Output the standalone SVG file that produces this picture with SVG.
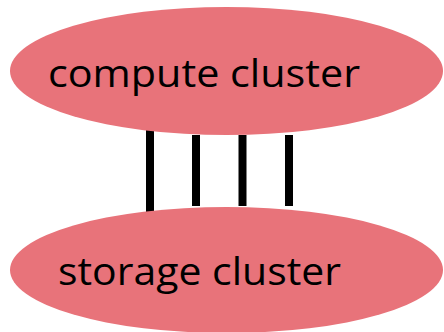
<svg xmlns="http://www.w3.org/2000/svg" width="444" height="332" viewBox="0 0 444 332">
<style>
.node{fill:#E8737A;stroke:none}
.lbl{font-family:"Open Sans","Liberation Sans",sans-serif;font-size:38px;fill:#000}
.link{stroke:#000;stroke-width:8;fill:none}
</style>
<rect width="444" height="332" fill="#fff"/>
<g id="connectors">
<line class="link" x1="150" y1="125" x2="150" y2="215"/>
<line class="link" x1="196" y1="135" x2="196" y2="206"/>
<line class="link" x1="242.5" y1="135" x2="242.5" y2="206"/>
<line class="link" x1="289" y1="135" x2="289" y2="206"/>
</g>
<g id="compute">
<ellipse class="node" cx="226.5" cy="71" rx="216.5" ry="64"/>
<text class="lbl" x="48" y="87" textLength="312" lengthAdjust="spacingAndGlyphs">compute cluster</text>
</g>
<g id="storage">
<ellipse class="node" cx="226.5" cy="270" rx="216.5" ry="63"/>
<text class="lbl" x="58" y="285" textLength="283" lengthAdjust="spacingAndGlyphs">storage cluster</text>
</g>
</svg>
